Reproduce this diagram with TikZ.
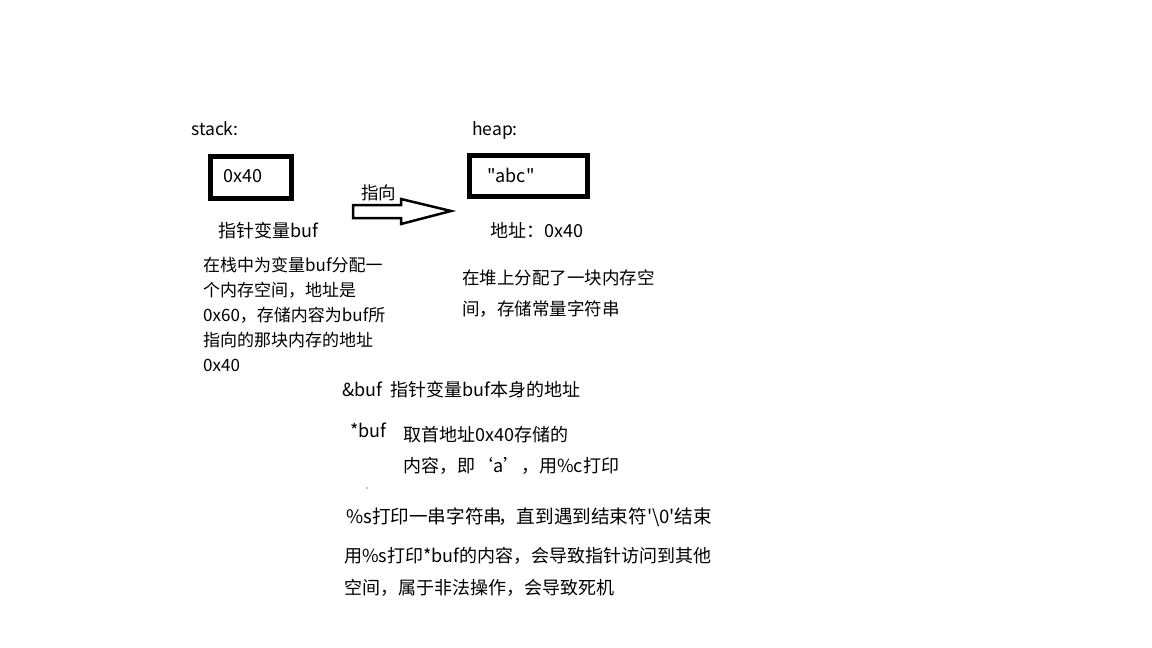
\documentclass[tikz,border=0pt]{standalone}
\usepackage{fontspec}
\setmainfont{Noto Sans CJK SC}[Ligatures=TeXOff]
\begin{document}
\begin{tikzpicture}[x=1pt,y=-1pt,
  txt/.style={anchor=west,inner sep=0pt,font=\fontsize{17}{17}\selectfont},
  big/.style={anchor=west,inner sep=0pt,font=\fontsize{17.5}{17.5}\selectfont},
  bigg/.style={anchor=west,inner sep=0pt,font=\fontsize{18}{18}\selectfont},
  membox/.style={draw,line width=5pt}]
\useasboundingbox[fill=white] (0,0) rectangle (1152,648);
% stack
\node[big] (stacklbl) at (191,129) {stack:};
\draw[membox] (210.5,156.5) rectangle (291.5,198.5);
\node[bigg] (sval) at (223,176) {0x40};
\node[bigg] (sname) at (218,231) {指针变量buf};
\node[txt] (p1) at (203,265) {在栈中为变量buf分配一};
\node[txt] (p2) at (203,290) {个内存空间，地址是};
\node[txt] (p3) at (203,315) {0x60，存储内容为buf所};
\node[txt] (p4) at (203,340) {指向的那块内存的地址};
\node[txt] (p5) at (203,365) {0x40};
% arrow
\node[big] (arrlbl) at (361,193) {指向};
\draw[line width=2.5pt,line join=miter]
  (353,205) -- (401,205) -- (401,199) -- (451,211) -- (401,224) -- (401,218) -- (353,218) -- cycle;
% heap
\node[big] (heaplbl) at (472,131) {heap:};
\draw[membox] (469.5,155.5) rectangle (587.5,196.5);
\node[bigg] (hval) at (487,175) {"abc"};
\node[bigg] (haddr) at (490,230) {地址：0x40};
\node[big] (h1) at (462,278) {在堆上分配了一块内存空};
\node[big] (h2) at (462,309) {间，存储常量字符串};
% explanations
\node[bigg] (amp) at (342,390) {\&buf\ \ 指针变量buf本身的地址};
\node[bigg] (star) at (350,430) {*buf};
\node[bigg] (s1) at (403,435) {取首地址0x40存储的};
\node[bigg] (s2) at (403,466) {内容，即‘a’，用\%c打印};
\fill (367,488) circle (0.7);
\node[anchor=west,inner sep=0pt,font=\fontsize{18.6}{18.6}\selectfont] (pct) at (346,517) {\%s打印一串字符串\kern-4pt，直到遇到结束符'\textbackslash 0'结束};
\node[bigg] (w1) at (344,556) {用\%s打印*buf的内容，会导致指针访问到其他};
\node[bigg] (w2) at (344,588) {空间，属于非法操作，会导致死机};
\end{tikzpicture}
\end{document}
